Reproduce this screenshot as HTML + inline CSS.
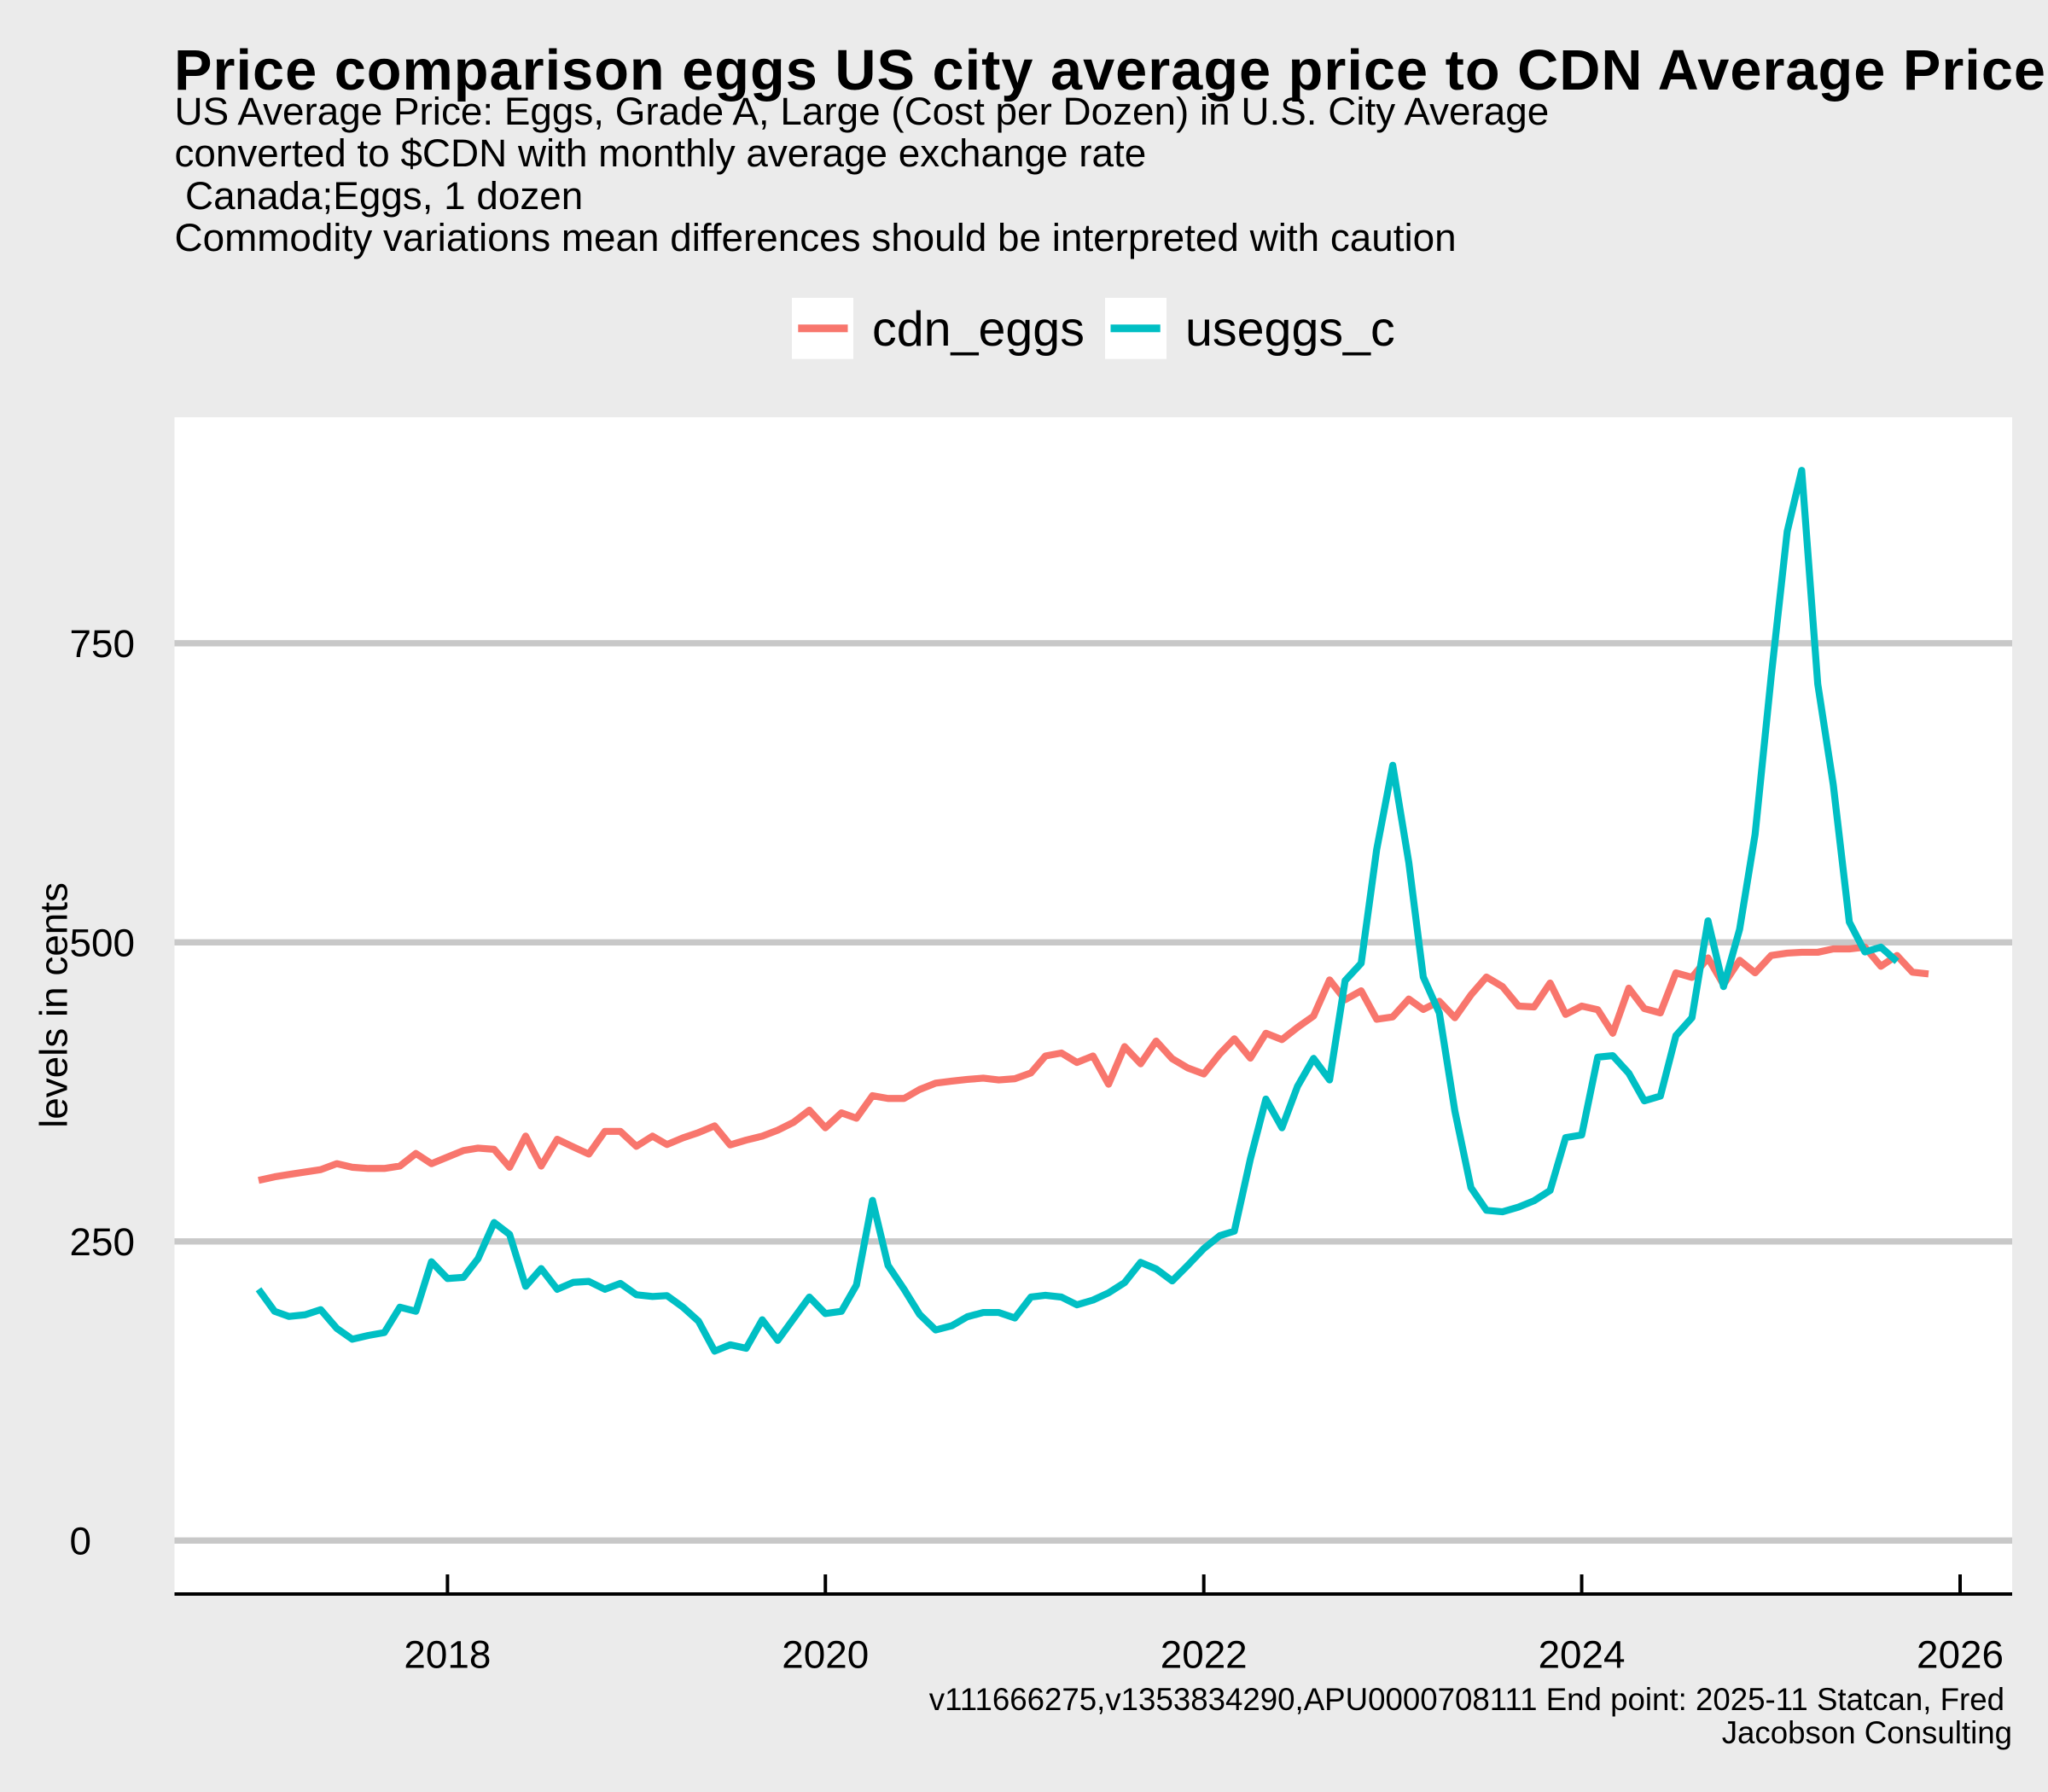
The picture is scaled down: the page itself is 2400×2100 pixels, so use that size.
<!DOCTYPE html>
<html lang="en">
<head>
<meta charset="utf-8">
<title>Price comparison eggs</title>
<style>
html,body{margin:0;padding:0;background:#ebebeb;}
svg{display:block;}
text{font-family:"Liberation Sans",Arial,sans-serif;fill:#000;}
</style>
</head>
<body>
<svg id="chart" xmlns="http://www.w3.org/2000/svg" width="2400" height="2100" viewBox="0 0 2400 2100">
  <rect x="0" y="0" width="2400" height="2100" fill="#ebebeb"/>
  <rect x="204.5" y="489" width="2153.5" height="1379" fill="#ffffff"/>
  <g id="grid"></g>
  <g id="series"></g>
  <g id="xaxis"></g>
  <g id="yaxis"></g>

  <text x="204" y="105" font-size="66.67" font-weight="bold" textLength="2193" lengthAdjust="spacing">Price comparison eggs US city average price to CDN Average Price</text>
  <text x="204.5" y="146" font-size="45.83">US Average Price: Eggs, Grade A, Large (Cost per Dozen) in U.S. City Average</text>
  <text x="204.5" y="195" font-size="45.83">converted to $CDN with monthly average exchange rate</text>
  <text x="217" y="245" font-size="45.83">Canada;Eggs, 1 dozen</text>
  <text x="204.5" y="294" font-size="45.83">Commodity variations mean differences should be interpreted with caution</text>

  <g>
    <g>
      <rect x="928" y="349" width="72" height="71.7" fill="#ffffff"/>
      <rect x="935.3" y="380.3" width="58.2" height="9" fill="#F8766D"/>
      <text x="1022" y="405" font-size="57.4">cdn_eggs</text>
    </g>
    <g>
      <rect x="1295" y="349" width="72" height="71.7" fill="#ffffff"/>
      <rect x="1301.5" y="380.3" width="58.2" height="9" fill="#00BFC4"/>
      <text x="1389" y="405" font-size="57.4">useggs_c</text>
    </g>
  </g>

  <text transform="translate(78.3,1178) rotate(-90)" text-anchor="middle" font-size="45.83">levels in cents</text>

  <text x="2349" y="2004" text-anchor="end" font-size="36.67">v111666275,v1353834290,APU0000708111 End point: 2025-11 Statcan, Fred</text>
  <text x="2358" y="2043" text-anchor="end" font-size="36.67">Jacobson Consulting</text>
</svg>
<script>
const months = [
"2017-01","2017-02","2017-03","2017-04","2017-05","2017-06","2017-07","2017-08","2017-09","2017-10","2017-11","2017-12",
"2018-01","2018-02","2018-03","2018-04","2018-05","2018-06","2018-07","2018-08","2018-09","2018-10","2018-11","2018-12",
"2019-01","2019-02","2019-03","2019-04","2019-05","2019-06","2019-07","2019-08","2019-09","2019-10","2019-11","2019-12",
"2020-01","2020-02","2020-03","2020-04","2020-05","2020-06","2020-07","2020-08","2020-09","2020-10","2020-11","2020-12",
"2021-01","2021-02","2021-03","2021-04","2021-05","2021-06","2021-07","2021-08","2021-09","2021-10","2021-11","2021-12",
"2022-01","2022-02","2022-03","2022-04","2022-05","2022-06","2022-07","2022-08","2022-09","2022-10","2022-11","2022-12",
"2023-01","2023-02","2023-03","2023-04","2023-05","2023-06","2023-07","2023-08","2023-09","2023-10","2023-11","2023-12",
"2024-01","2024-02","2024-03","2024-04","2024-05","2024-06","2024-07","2024-08","2024-09","2024-10","2024-11","2024-12",
"2025-01","2025-02","2025-03","2025-04","2025-05","2025-06","2025-07","2025-08","2025-09","2025-10","2025-11"
];
const cdnEggs = [
301,304,306,308,310,315,312,311,311,313,323.5,315,
320.5,326,328,327,312,338,313,335.4,329,323,342,342,
329.5,338,331,336.6,341,346.6,330.7,334.7,338,343,349.7,359.7,
345,357.5,353,371.8,369.5,369.5,377,382.3,384,385.4,386.5,385,
386,390.8,405,407.5,399.6,405,381.4,412.8,398.5,417.5,402.7,395,
390,406.8,419.4,403.2,424,418.7,428.9,438.4,468.6,452,459.5,435.7,
437.7,452.6,443.9,450.7,437,456,471,463,446.7,446,466,439.8,
446.7,443.7,424,461.7,444.6,441,474.5,470.7,487,464.6,485,474.5,
489,491,491.7,491.7,494.5,494.5,496,480,489,475,473.6
];
const usEggsC = [
210,191.6,187.3,188.7,193,177.4,168.3,171.4,173.8,195,191.6,233,
219,220,235.6,265.8,255.8,212.5,227.3,210,215.8,216.6,210,214.9,
205.4,204,204.7,195,183.3,158.3,163.6,160.7,184.5,167.3,185.7,203.5,
189.7,191.6,213.5,284.3,230,210,189,176,179.5,187,190.6,190.6,
186,203.5,205,203.5,197,201,207,215.6,232.5,227,217,230,
244,254.8,258.6,319,369,345,379.6,403,385,468,482.5,577.7,
648,566.8,471,441,359,295,276,274.8,278.7,284,292.6,336.8,
339,404,405.3,390.6,367.5,371.5,422,437,518,463,510.8,590.3,
722,843.4,894.5,716,631.7,517,492,496,484
];
const yTickValues = [0,250,500,750];
const yTickLabels = ["0","250","500","750"];
const xTickYears = ["2018","2020","2022","2024","2026"];

const NS = "http://www.w3.org/2000/svg";
const panelLeft = 204.5, panelRight = 2358, axisY = 1868;

function toTime(s){
  const p = s.split("-");
  return Date.UTC(+p[0], (p[1] ? +p[1] : 1) - 1, 1);
}
const t0 = toTime("2018"), t1 = toTime("2026");
function xScale(s){ return 524.4 + (toTime(s) - t0) * (2297 - 524.4) / (t1 - t0); }
function yScale(v){ return 1805.3 - v * 1.402; }

function make(tag, attrs, parent){
  const el = document.createElementNS(NS, tag);
  for (const k in attrs) el.setAttribute(k, attrs[k]);
  parent.appendChild(el);
  return el;
}

const grid = document.getElementById("grid");
const yaxis = document.getElementById("yaxis");
yTickValues.forEach(function(v, i){
  const g = make("line", {x1: panelLeft, x2: panelRight, y1: yScale(v), y2: yScale(v), stroke: "#c8c8c8", "stroke-width": 7.3}, grid);
  
  
  const t = make("text", {x: 81.5, y: yScale(v) + 16, "font-size": 45.83}, yaxis);
  
  
  t.textContent = yTickLabels[i];
});

const series = document.getElementById("series");
function drawSeries(values, colour, name){
  const pts = values.map(function(v, i){ return xScale(months[i]).toFixed(2) + "," + yScale(v).toFixed(2); }).join(" ");
  const line = make("polyline", {points: pts, fill: "none", stroke: colour, "stroke-width": 8.2, "stroke-linejoin": "round", "stroke-linecap": "butt"}, series);
  
  
}
drawSeries(cdnEggs, "#F8766D", "line-cdn-eggs");
drawSeries(usEggsC, "#00BFC4", "line-useggs-c");

const xaxis = document.getElementById("xaxis");
const axisLine = make("line", {x1: panelLeft, x2: panelRight, y1: axisY, y2: axisY, stroke: "#000", "stroke-width": 4}, xaxis);


xTickYears.forEach(function(y){
  const x = xScale(y);
  const tick = make("line", {x1: x, x2: x, y1: 1845, y2: axisY, stroke: "#000", "stroke-width": 4}, xaxis);
  
  
  const label = make("text", {x: x, y: 1954.3, "text-anchor": "middle", "font-size": 45.83}, xaxis);
  
  
  label.textContent = y;
});
</script>
</body>
</html>
